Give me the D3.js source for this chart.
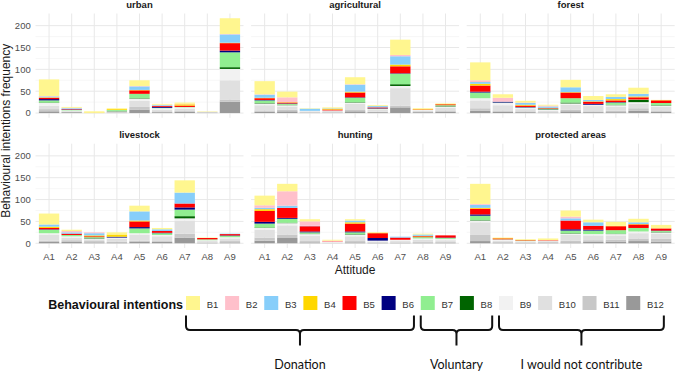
<!DOCTYPE html>
<html>
<head>
<meta charset="utf-8">
<script src="https://cdn.jsdelivr.net/npm/d3@7"></script>
<style>
  body { margin: 0; background: #fff; }
  svg { display: block; font-family: "Liberation Sans", Arial, sans-serif; }
</style>
</head>
<body>
<div id="chart"></div>
<script>
// categories
const attitudes = ['A1', 'A2', 'A3', 'A4', 'A5', 'A6', 'A7', 'A8', 'A9'];
const intentions = ['B1', 'B2', 'B3', 'B4', 'B5', 'B6', 'B7', 'B8', 'B9', 'B10', 'B11', 'B12'];
const intentionColors = ['#FFF68F', '#FFC0CB', '#87CEFA', '#FFD700', '#FF0000', '#000080',
  '#90EE90', '#006400', '#F2F2F2', '#E0E0E0', '#C8C8C8', '#999999'];
const facets = ['urban', 'agricultural', 'forest', 'livestock', 'hunting', 'protected areas'];

// frequencies, one row per attitude (A1..A9), columns B1..B12
const urban = [
  [38, 1, 2, 1, 3, 3, 5, 1, 6, 8, 5, 4],
  [2, 1, 2, 0, 1, 1, 1, 0, 1, 2, 1, 2],
  [3, 0, 0, 1, 0, 0, 0, 0, 0, 0, 0, 0],
  [2, 0, 0, 2, 0, 0, 2, 1, 1, 1, 1, 1],
  [13, 1, 8, 1, 8, 0, 10, 1, 5, 14, 6, 8],
  [2, 1, 2, 0, 2, 2, 1, 0, 3, 4, 2, 2],
  [3, 1, 0, 3, 3, 0, 1, 0, 3, 4, 3, 3],
  [1, 0, 0, 0, 0, 0, 0, 0, 0, 1, 1, 1],
  [36, 1, 19, 1, 17, 4, 34, 4, 26, 44, 5, 26]
];
const agricultural = [
  [30, 1, 7, 1, 4, 1, 6, 1, 4, 12, 3, 3],
  [13, 11, 0, 1, 2, 1, 2, 1, 3, 7, 4, 4],
  [1, 0, 5, 0, 0, 0, 0, 0, 1, 2, 1, 1],
  [2, 0, 1, 2, 2, 0, 0, 0, 1, 3, 1, 1],
  [16, 1, 16, 2, 11, 1, 10, 1, 3, 14, 3, 4],
  [2, 0, 3, 0, 2, 1, 1, 0, 2, 4, 1, 2],
  [35, 3, 19, 4, 16, 1, 24, 4, 5, 40, 4, 13],
  [2, 0, 0, 1, 1, 0, 0, 0, 1, 2, 2, 2],
  [1, 0, 0, 1, 2, 0, 2, 1, 3, 6, 3, 3]
];
const forest = [
  [41, 4, 4, 4, 14, 2, 13, 0, 5, 18, 6, 5],
  [8, 9, 0, 0, 0, 2, 1, 0, 5, 12, 3, 3],
  [4, 1, 4, 2, 3, 1, 1, 0, 3, 5, 2, 2],
  [2, 2, 3, 1, 1, 1, 1, 1, 2, 3, 1, 1],
  [17, 0, 11, 1, 13, 0, 10, 2, 3, 11, 4, 4],
  [9, 0, 3, 1, 5, 2, 0, 0, 3, 12, 2, 2],
  [6, 0, 5, 3, 4, 1, 5, 1, 3, 10, 3, 2],
  [14, 0, 6, 2, 5, 0, 1, 5, 4, 10, 6, 5],
  [0, 0, 0, 1, 6, 0, 5, 1, 3, 8, 3, 3]
];
const livestock = [
  [25, 0, 5, 3, 3, 1, 8, 0, 3, 14, 3, 3],
  [3, 3, 3, 0, 3, 0, 3, 0, 3, 6, 4, 3],
  [0, 2, 5, 2, 2, 0, 2, 1, 2, 4, 3, 2],
  [5, 0, 0, 5, 0, 2, 0, 0, 3, 6, 2, 2],
  [13, 0, 21, 2, 13, 3, 11, 0, 3, 14, 2, 4],
  [3, 0, 4, 0, 4, 1, 4, 0, 3, 11, 2, 3],
  [28, 0, 25, 0, 9, 5, 15, 5, 5, 30, 9, 13],
  [1, 0, 0, 0, 3, 0, 2, 0, 2, 3, 1, 1],
  [0, 0, 1, 0, 3, 1, 3, 0, 3, 6, 3, 2]
];
const hunting = [
  [22, 6, 3, 4, 25, 4, 9, 1, 4, 18, 7, 6],
  [17, 33, 5, 0, 23, 2, 9, 1, 5, 21, 8, 12],
  [5, 10, 1, 0, 12, 2, 3, 1, 4, 12, 3, 2],
  [2, 2, 0, 0, 1, 0, 0, 0, 1, 1, 1, 0],
  [3, 0, 4, 3, 18, 2, 4, 1, 4, 11, 3, 2],
  [1, 0, 0, 1, 11, 6, 0, 0, 2, 2, 1, 1],
  [0, 0, 2, 0, 5, 0, 0, 0, 3, 3, 1, 1],
  [2, 0, 3, 1, 2, 0, 3, 0, 3, 5, 2, 1],
  [0, 0, 0, 0, 5, 1, 2, 0, 3, 4, 2, 1]
];
const protectedAreas = [
  [46, 2, 7, 2, 13, 3, 10, 1, 4, 29, 14, 5],
  [1, 0, 0, 1, 2, 0, 1, 0, 2, 3, 2, 1],
  [1, 0, 0, 1, 1, 0, 1, 0, 1, 2, 1, 1],
  [4, 0, 0, 0, 1, 0, 0, 0, 1, 2, 2, 1],
  [14, 4, 5, 0, 20, 3, 6, 1, 3, 13, 4, 2],
  [6, 0, 8, 0, 9, 2, 8, 0, 3, 11, 4, 3],
  [9, 0, 0, 1, 9, 0, 8, 1, 3, 10, 4, 4],
  [8, 0, 4, 1, 8, 0, 8, 0, 4, 12, 6, 5],
  [8, 0, 0, 0, 5, 1, 2, 1, 3, 12, 6, 4]
];
const facetData = [urban, agricultural, forest, livestock, hunting, protectedAreas];

// brace groups under the legend
const groupLabels = ['Donation', 'Voluntary', 'I would not contribute'];
const groupFirst = ['B1', 'B7', 'B9'];
const groupLast = ['B6', 'B8', 'B12'];

//sizes
const width = 676, height = 372;
const panelLeft = 35.5, panelW = 208, panelH = 104.3, gapX = 7.6;
const rowTop = [13.5, 143.7];

const svg = d3.select('#chart').append('svg')
  .attr('width', width)
  .attr('height', height);

svg.append('rect').attr('width', width).attr('height', height).attr('fill', '#fff');

//scales (fixed across facets, 5% expansion like ggplot)
const maxTotal = d3.max(facetData, rows => d3.max(rows, r => d3.sum(r)));
const pad = maxTotal * 0.05;
const y = d3.scaleLinear().domain([-pad, maxTotal + pad]).range([panelH, 0]);
const x = d3.scaleBand().domain(attitudes).range([0, panelW]).paddingInner(0.1).paddingOuter(0.15);
const color = d3.scaleOrdinal().domain(intentions).range(intentionColors);

const majors = y.ticks(5);
const minors = majors.slice(1).map((t, k) => (t + majors[k]) / 2);

// B1 on top, B12 at the bottom
const stack = d3.stack().keys(intentions.slice().reverse());

facets.forEach((name, i) => {
  const col = i % 3, row = Math.floor(i / 3);
  const g = svg.append('g')
    .attr('transform', `translate(${panelLeft + col * (panelW + gapX)},${rowTop[row]})`);

  const table = facetData[i].map((vals, j) => {
    const o = { attitude: attitudes[j] };
    intentions.forEach((b, k) => o[b] = vals[k]);
    return o;
  });

  //grid
  g.selectAll('.minor').data(minors).join('line')
    .attr('x1', 0).attr('x2', panelW)
    .attr('y1', d => y(d)).attr('y2', d => y(d))
    .attr('stroke', '#f2f2f2').attr('stroke-width', 0.6);
  g.selectAll('.major').data(majors).join('line')
    .attr('x1', 0).attr('x2', panelW)
    .attr('y1', d => y(d)).attr('y2', d => y(d))
    .attr('stroke', '#e8e8e8').attr('stroke-width', 1);
  g.selectAll('.vgrid').data(attitudes).join('line')
    .attr('x1', d => x(d) + x.bandwidth() / 2).attr('x2', d => x(d) + x.bandwidth() / 2)
    .attr('y1', 0).attr('y2', panelH)
    .attr('stroke', '#e8e8e8').attr('stroke-width', 1);

  //stacked bars
  g.selectAll('g.layer')
    .data(stack(table))
    .join('g')
    .attr('class', 'layer')
    .attr('fill', d => color(d.key))
    .selectAll('rect')
    .data(d => d)
    .join('rect')
    .attr('x', d => x(d.data.attitude))
    .attr('width', x.bandwidth())
    .attr('y', d => y(d[1]))
    .attr('height', d => y(d[0]) - y(d[1]));

  //strip title
  g.append('text')
    .attr('x', panelW / 2).attr('y', -6)
    .attr('text-anchor', 'middle')
    .attr('font-size', 9.5).attr('font-weight', 'bold')
    .attr('fill', '#1a1a1a')
    .text(name);

  if (col === 0) {
    g.selectAll('.ytick').data(majors).join('text')
      .attr('x', -4.8).attr('y', d => y(d))
      .attr('dy', '0.35em')
      .attr('text-anchor', 'end')
      .attr('font-size', 9.5).attr('fill', '#4d4d4d')
      .text(d => d);
  }
  if (row === 1) {
    g.selectAll('.xtick').data(attitudes).join('text')
      .attr('x', d => x(d) + x.bandwidth() / 2).attr('y', panelH + 12)
      .attr('text-anchor', 'middle')
      .attr('font-size', 9.5).attr('fill', '#4d4d4d')
      .text(d => d);
  }
});

//axis titles
const plotRight = panelLeft + 3 * panelW + 2 * gapX;
svg.append('text')
  .attr('x', (panelLeft + plotRight) / 2).attr('y', 274)
  .attr('text-anchor', 'middle')
  .attr('font-size', 12).attr('fill', '#1a1a1a')
  .text('Attitude');
svg.append('text')
  .attr('transform', `translate(9.5,${(rowTop[0] + rowTop[1] + panelH) / 2}) rotate(-90)`)
  .attr('text-anchor', 'middle')
  .attr('font-size', 12).attr('fill', '#1a1a1a')
  .text('Behavioural intentions frequency');

//legend
const legend = svg.append('g');
legend.append('text')
  .attr('x', 183).attr('y', 308.5)
  .attr('text-anchor', 'end')
  .attr('font-size', 12.5).attr('font-weight', 'bold')
  .attr('fill', '#111')
  .text('Behavioural intentions');

const keyPos = {};
let kx = 186;
intentions.forEach(b => {
  legend.append('rect')
    .attr('x', kx).attr('y', 296)
    .attr('width', 14).attr('height', 14)
    .attr('fill', color(b));
  const t = legend.append('text')
    .attr('x', kx + 20.7).attr('y', 308)
    .attr('font-size', 9.5).attr('fill', '#333')
    .text(b);
  const w = t.node().getComputedTextLength();
  keyPos[b] = { left: kx, right: kx + 20.7 + w };
  kx += 20.7 + w + 6.8;
});

//curly braces grouping the keys
const yTop = 315.5, yMid = 330, yTip = 345.5, r = 4;
groupLabels.forEach((label, i) => {
  const x1 = keyPos[groupFirst[i]].left, x2 = keyPos[groupLast[i]].right;
  const xc = (x1 + x2) / 2;
  const p = d3.path();
  p.moveTo(x1, yTop);
  p.lineTo(x1, yMid - r);
  p.quadraticCurveTo(x1, yMid, x1 + r, yMid);
  p.lineTo(xc - r, yMid);
  p.quadraticCurveTo(xc, yMid, xc, yMid + r);
  p.lineTo(xc, yTip);
  p.moveTo(xc, yMid + r);
  p.quadraticCurveTo(xc, yMid, xc + r, yMid);
  p.lineTo(x2 - r, yMid);
  p.quadraticCurveTo(x2, yMid, x2, yMid - r);
  p.lineTo(x2, yTop);
  legend.append('path')
    .attr('d', p.toString())
    .attr('fill', 'none')
    .attr('stroke', '#111')
    .attr('stroke-width', 2);
  legend.append('text')
    .attr('x', xc).attr('y', 369)
    .attr('text-anchor', 'middle')
    .attr('font-family', 'Lato, "Open Sans", sans-serif')
    .attr('font-size', 12.5).attr('fill', '#111')
    .text(label);
});
</script>
</body>
</html>
